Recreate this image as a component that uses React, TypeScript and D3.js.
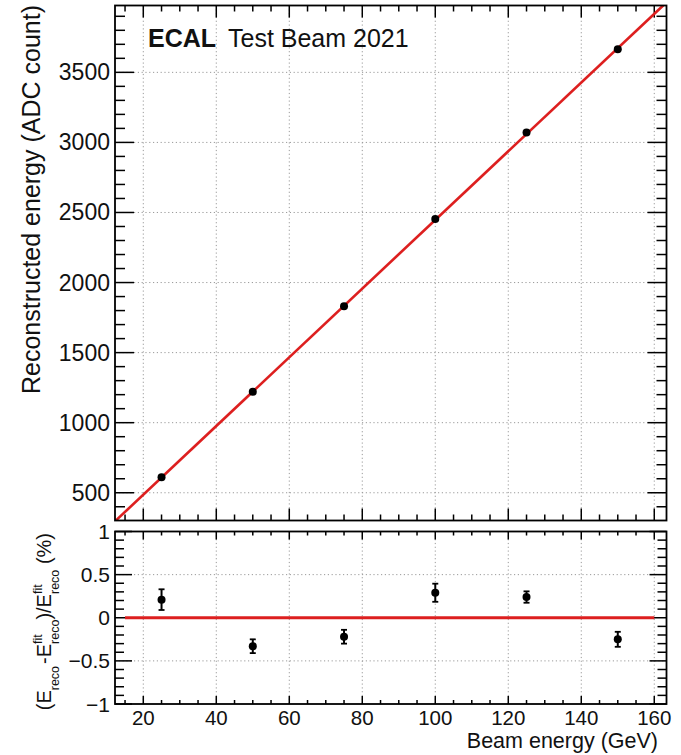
import React from "react";
import * as d3 from "d3";

// ---- data ----
const beamEnergy = [25, 50, 75, 100, 125, 150];
const recoEnergy = [610, 1220, 1831, 2454, 3070, 3664];
const residual = [0.21, -0.33, -0.22, 0.29, 0.24, -0.25];
const residualErr = [0.12, 0.08, 0.08, 0.105, 0.066, 0.087];
const fitSlope = 24.51;
const fitIntercept = -4;
const fitRange = [12.5, 162.5];
const residualLineRange = [15, 160];
const xMajorTicks = [20, 40, 60, 80, 100, 120, 140, 160];
const yTopMajorTicks = [500, 1000, 1500, 2000, 2500, 3000, 3500];
const yBotMajorTicks = [-1, -0.5, 0, 0.5, 1];
const yBotTickLabels = ["\u22121", "\u22120.5", "0", "0.5", "1"];

const W = 681;
const H = 755;
const FONT = "'Liberation Sans', Arial, Helvetica, sans-serif";
const RED = "#dd1f1f";
const GRID = "#9a9a9a";

const L = 115, R = 666.5;
const topT = 5.5, topB = 520.5;
const botT = 531.5, botB = 704;

export default function App() {
  const x = d3.scaleLinear().domain([12.25, 163.35]).range([L, R]);
  const yTop = d3.scaleLinear().domain([302, 3977]).range([topB, topT]);
  const yBot = d3.scaleLinear().domain([-1, 1]).range([botB, botT]);

  const [xd0, xd1] = x.domain();
  const xMinor = d3.range(5, 170, 5).filter((v) => v >= xd0 && v <= xd1 && v % 20 !== 0);
  const yTopMinor = d3.range(300, 4000, 100).filter((v) => v >= 302 && v <= 3977 && v % 500 !== 0);
  const yBotMinor = d3.range(-9, 10, 1).map((v) => v / 10).filter((v) => Math.abs(v) !== 0.5 && v !== 0);

  const fitLine = d3.line<number>()
    .x((v) => x(v))
    .y((v) => yTop(fitSlope * v + fitIntercept));

  const grid = (x1: number, y1: number, x2: number, y2: number, k: string) => (
    <line key={k} x1={x1} y1={y1} x2={x2} y2={y2} stroke={GRID} strokeWidth={1} strokeDasharray="1.2,2.6" />
  );
  const tick = (x1: number, y1: number, x2: number, y2: number, k: string) => (
    <line key={k} x1={x1} y1={y1} x2={x2} y2={y2} stroke="#000" strokeWidth={1.5} />
  );

  return (
    <svg width={W} height={H} style={{ position: "absolute", left: 0, top: 0, background: "#fff" }} fontFamily={FONT}>
      <rect x={0} y={0} width={W} height={H} fill="#fff" />
      <defs>
        <clipPath id="topClip">
          <rect x={L} y={topT} width={R - L} height={topB - topT} />
        </clipPath>
      </defs>

      {/* ---------- TOP PANEL ---------- */}
      {xMajorTicks.map((v) => grid(x(v), topT, x(v), topB, "tgx" + v))}
      {yTopMajorTicks.map((v) => grid(L, yTop(v), R, yTop(v), "tgy" + v))}

      {/* ticks */}
      {xMajorTicks.map((v) => tick(x(v), topB, x(v), topB - 12, "txb" + v))}
      {xMajorTicks.map((v) => tick(x(v), topT, x(v), topT + 12, "txt" + v))}
      {xMinor.map((v) => tick(x(v), topB, x(v), topB - 6, "txbm" + v))}
      {xMinor.map((v) => tick(x(v), topT, x(v), topT + 6, "txtm" + v))}
      {yTopMajorTicks.map((v) => tick(L, yTop(v), L + 19, yTop(v), "tyl" + v))}
      {yTopMajorTicks.map((v) => tick(R, yTop(v), R - 19, yTop(v), "tyr" + v))}
      {yTopMinor.map((v) => tick(L, yTop(v), L + 10, yTop(v), "tylm" + v))}
      {yTopMinor.map((v) => tick(R, yTop(v), R - 10, yTop(v), "tyrm" + v))}

      {/* fit line */}
      <path d={fitLine(fitRange) || ""} stroke={RED} strokeWidth={2.6} fill="none" clipPath="url(#topClip)" />

      {/* points */}
      {beamEnergy.map((e, i) => (
        <circle key={"tp" + i} cx={x(e)} cy={yTop(recoEnergy[i])} r={4} fill="#000" />
      ))}

      <rect x={L} y={topT} width={R - L} height={topB - topT} fill="none" stroke="#000" strokeWidth={1.8} />

      {/* y tick labels */}
      {yTopMajorTicks.map((v) => (
        <text key={"tyl" + v} x={110} y={yTop(v)} fontSize={23} textAnchor="end" dominantBaseline="central" fill="#111">
          {v}
        </text>
      ))}

      {/* y title */}
      <text transform={`translate(40,5) rotate(-90)`} fontSize={25} textAnchor="end" fill="#111">
        Reconstructed energy (ADC count)
      </text>

      {/* header */}
      <text x={148} y={47} fontSize={25} fontWeight="bold" fill="#111">ECAL</text>
      <text x={228} y={47} fontSize={25} fill="#111">Test Beam 2021</text>

      {/* ---------- BOTTOM PANEL ---------- */}
      {xMajorTicks.map((v) => grid(x(v), botT, x(v), botB, "bgx" + v))}
      {[-0.5, 0.5].map((v) => grid(L, yBot(v), R, yBot(v), "bgy" + v))}

      {xMajorTicks.map((v) => tick(x(v), botB, x(v), botB - 8, "bxb" + v))}
      {xMajorTicks.map((v) => tick(x(v), botT, x(v), botT + 8, "bxt" + v))}
      {xMinor.map((v) => tick(x(v), botB, x(v), botB - 4, "bxbm" + v))}
      {xMinor.map((v) => tick(x(v), botT, x(v), botT + 4, "bxtm" + v))}
      {yBotMajorTicks.map((v) => tick(L, yBot(v), L + 17, yBot(v), "byl" + v))}
      {yBotMajorTicks.map((v) => tick(R, yBot(v), R - 17, yBot(v), "byr" + v))}
      {yBotMinor.map((v) => tick(L, yBot(v), L + 9, yBot(v), "bylm" + v))}
      {yBotMinor.map((v) => tick(R, yBot(v), R - 9, yBot(v), "byrm" + v))}

      {/* zero line */}
      <line x1={x(residualLineRange[0])} x2={x(residualLineRange[1])} y1={yBot(0)} y2={yBot(0)} stroke={RED} strokeWidth={3} />

      {/* residual points */}
      {beamEnergy.map((e, i) => {
        const cx = x(e);
        const y0 = yBot(residual[i] - residualErr[i]);
        const y1 = yBot(residual[i] + residualErr[i]);
        return (
          <g key={"bp" + i}>
            <line x1={cx} x2={cx} y1={y0} y2={y1} stroke="#000" strokeWidth={2} />
            <line x1={cx - 3} x2={cx + 3} y1={y0} y2={y0} stroke="#000" strokeWidth={1.8} />
            <line x1={cx - 3} x2={cx + 3} y1={y1} y2={y1} stroke="#000" strokeWidth={1.8} />
            <circle cx={cx} cy={yBot(residual[i])} r={4} fill="#000" />
          </g>
        );
      })}

      <rect x={L} y={botT} width={R - L} height={botB - botT} fill="none" stroke="#000" strokeWidth={1.8} />

      {yBotMajorTicks.map((v, i) => (
        <text key={"byt" + v} x={110} y={yBot(v)} fontSize={21} textAnchor="end" dominantBaseline="central" fill="#111">
          {yBotTickLabels[i]}
        </text>
      ))}

      {xMajorTicks.map((v) => (
        <text key={"bxl" + v} x={x(v)} y={725} fontSize={20.5} textAnchor="middle" fill="#111">
          {v}
        </text>
      ))}

      <text x={658} y={748} fontSize={21.5} textAnchor="end" fill="#111">Beam energy (GeV)</text>

      {/* bottom y title */}
      <text transform={`translate(51,533) rotate(-90)`} fontSize={20} textAnchor="end" fill="#111">
        <tspan>(E</tspan>
        <tspan fontSize={12.5} dy={8}>reco</tspan>
        <tspan dx={2} dy={-8}>-E</tspan>
        <tspan fontSize={12.5} dy={-9}>fit</tspan>
        <tspan fontSize={12.5} dx={-9.7} dy={17}>reco</tspan>
        <tspan dy={-8}>)/E</tspan>
        <tspan fontSize={12.5} dy={-9}>fit</tspan>
        <tspan fontSize={12.5} dx={-9.7} dy={17}>reco</tspan>
        <tspan dy={-8}> (%)</tspan>
      </text>
    </svg>
  );
}
